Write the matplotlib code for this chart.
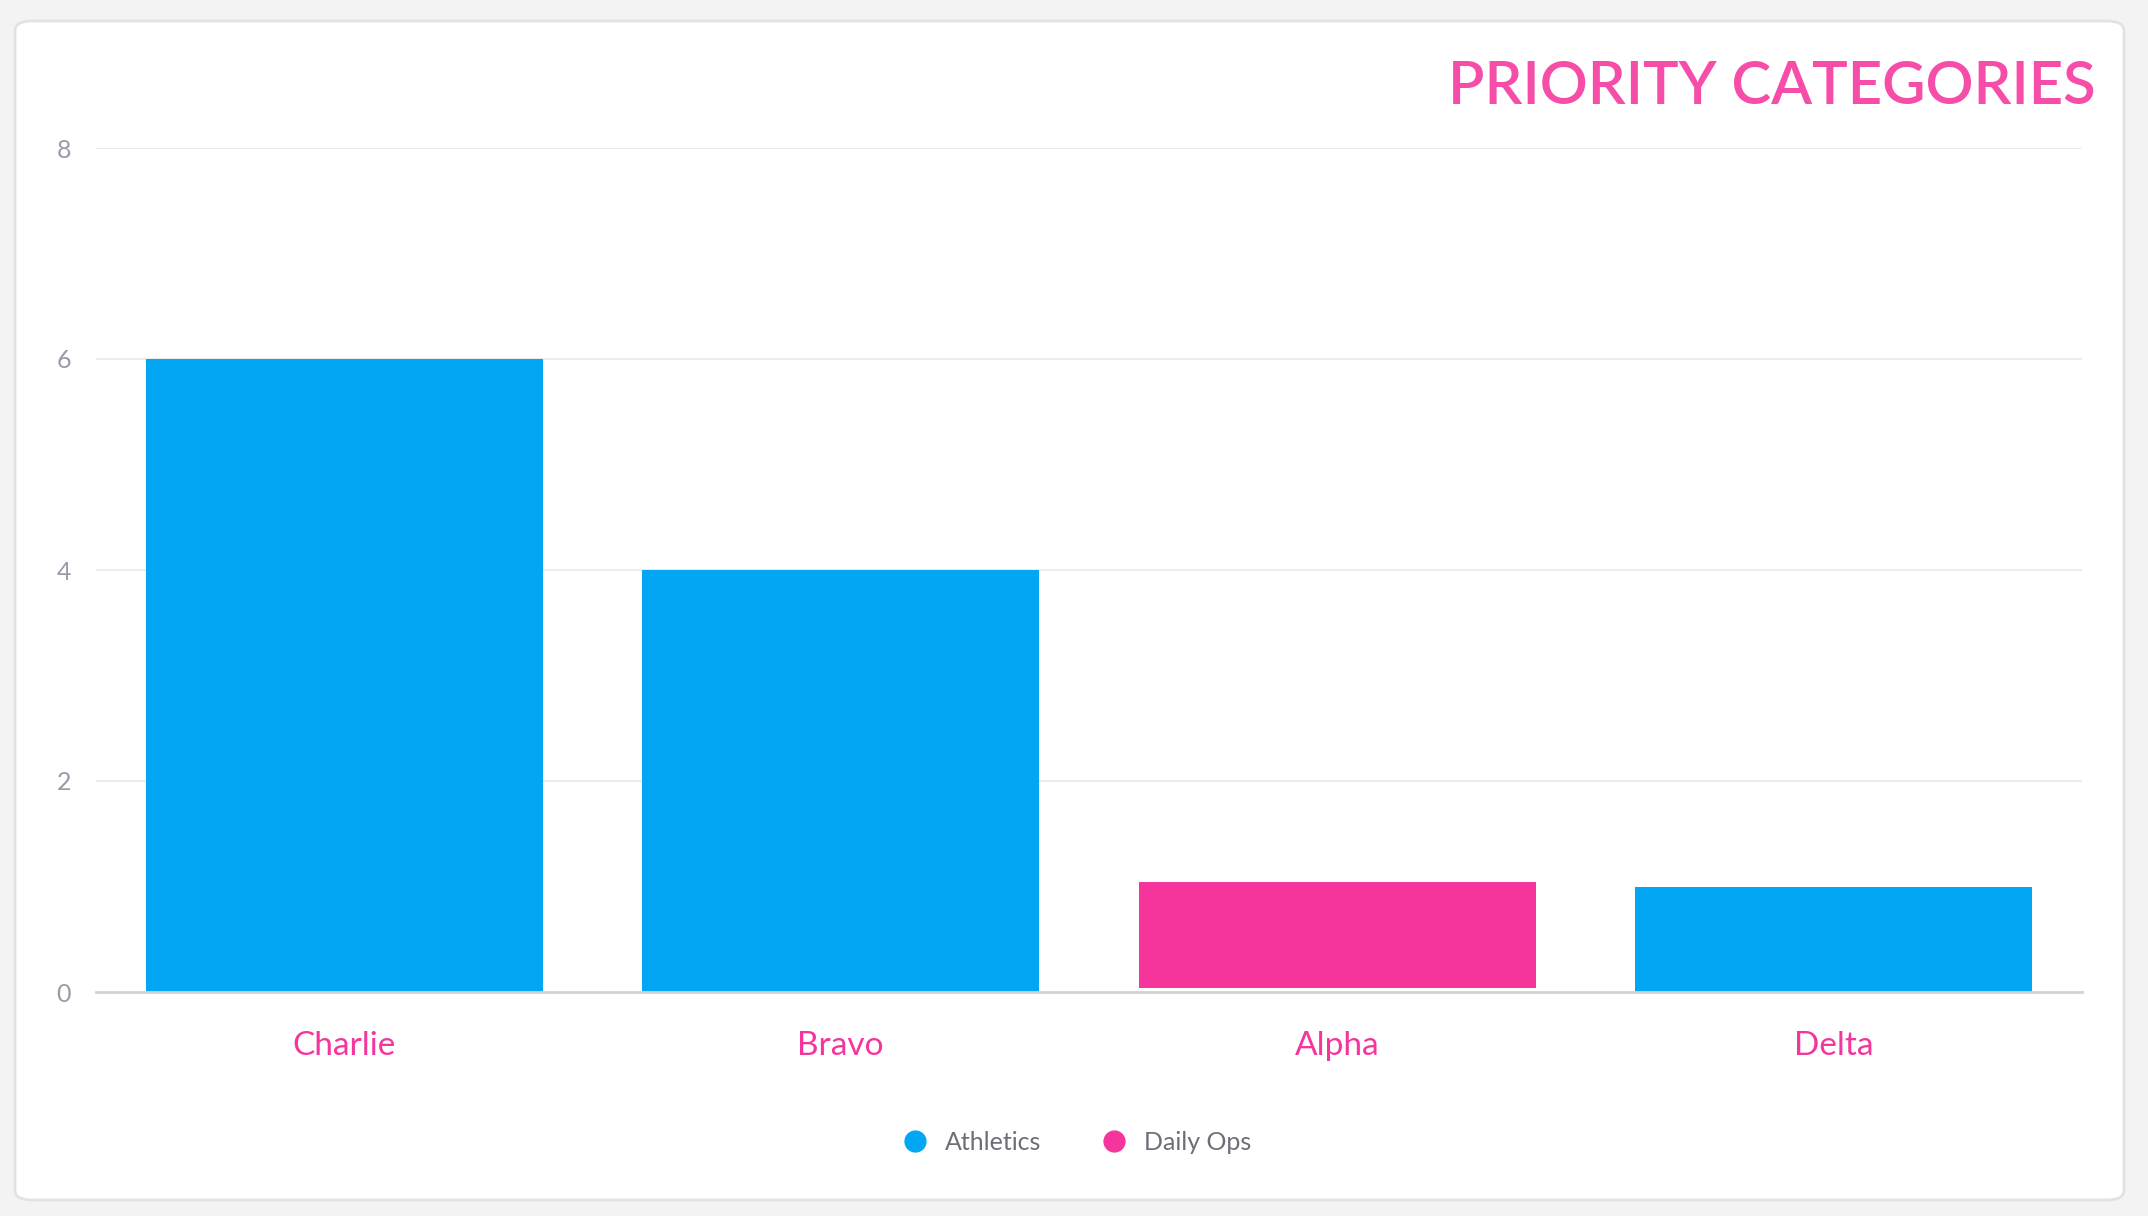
import matplotlib
matplotlib.use("Agg")
import matplotlib.pyplot as plt
from matplotlib.patches import FancyBboxPatch
from matplotlib.lines import Line2D
import numpy as np

# data
categories = ["Charlie", "Bravo", "Alpha", "Delta"]
athletics = [6, 4, 0, 1]
daily_ops = [0, 0, 1, 0]
series_names = ["Athletics", "Daily Ops"]
y_ticks = [0, 2, 4, 6, 8]

blue = "#02a6f3"
pink = "#f5359b"
title_pink = "#f64ea8"
tick_gray = "#9a9aa8"
legend_gray = "#6e6e7a"

plt.rcParams['font.family'] = ['Lato', 'DejaVu Sans']

W, H = 2148, 1216
fig = plt.figure(figsize=(W / 100, H / 100), dpi=100, facecolor="#f3f3f3")

# card background
card = FancyBboxPatch((15 / W, 1 - 1200 / H), (2124 - 15) / W, (1200 - 21) / H,
                      boxstyle="round,pad=0,rounding_size=0.008",
                      transform=fig.transFigure, facecolor="white",
                      edgecolor="#e2e2e2", linewidth=2, zorder=-10)
fig.patches.append(card)

ax = fig.add_axes([96 / W, 1 - 992 / H, (2082 - 96) / W, (992 - 148) / H])
ax.set_facecolor("none")
ax.set_zorder(2)

x = np.arange(len(categories))
bar_w = 0.8
stack_gap = 0.04  # small gap where the second series sits on an empty first segment

ax.bar(x, athletics, width=bar_w, color=blue, zorder=3)
bottoms = [a if a > 0 else stack_gap for a in athletics]
ax.bar(x, daily_ops, width=bar_w, bottom=bottoms, color=pink, zorder=3)

ax.set_xlim(-0.5, len(categories) - 0.5)
ax.set_ylim(0, 8)
ax.set_yticks(y_ticks)
ax.set_yticklabels([str(t) for t in y_ticks])
ax.set_xticks(x)
ax.set_xticklabels(categories)

ax.grid(axis="y", color="#ececec", linewidth=1.5, zorder=0)
ax.set_axisbelow(True)
for s in ["top", "right", "left"]:
    ax.spines[s].set_visible(False)
ax.spines["bottom"].set_color("#d2d2d8")
ax.spines["bottom"].set_linewidth(2)
ax.spines["bottom"].set_zorder(4)

ax.tick_params(axis="y", length=0, pad=18, labelsize=18, labelcolor=tick_gray)
ax.tick_params(axis="x", length=0, pad=28, labelsize=24, labelcolor=pink)

fig.text(2096 / W, 1 - 87 / H, "PRIORITY CATEGORIES", ha="right", va="center",
         fontsize=43, color=title_pink, fontweight="semibold")

handles = [Line2D([0], [0], marker="o", linestyle="none", markersize=15,
                  markerfacecolor=c, markeredgecolor=c) for c in [blue, pink]]
leg = fig.legend(handles, series_names, loc="center", bbox_to_anchor=(0.4985, 1 - 1142 / H),
                 ncol=2, frameon=False, fontsize=18, handletextpad=0.2,
                 columnspacing=1.9)
for t in leg.get_texts():
    t.set_color(legend_gray)

fig.savefig("out.png", dpi=100, facecolor=fig.get_facecolor())
